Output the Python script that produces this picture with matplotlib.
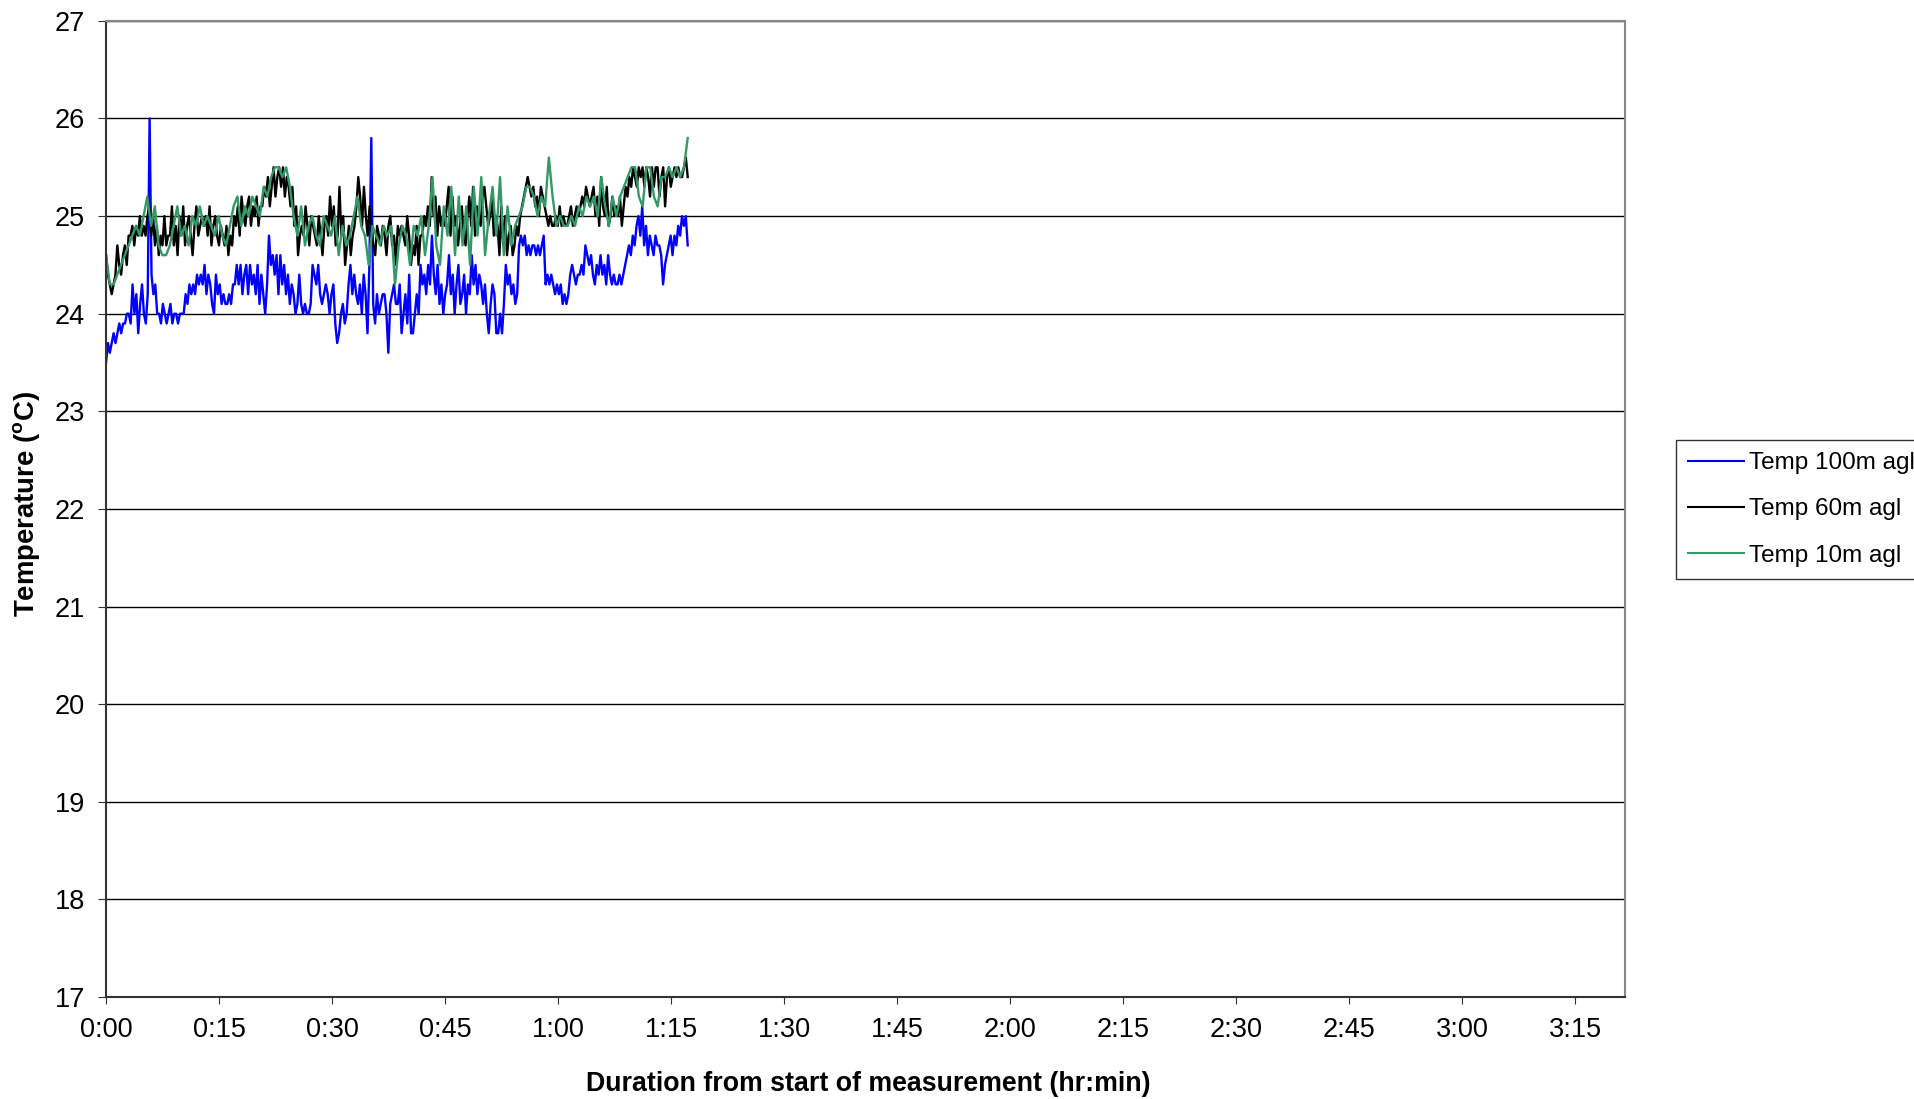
import numpy as np
import matplotlib
matplotlib.use("Agg")
import matplotlib.pyplot as plt

# temperature readings (deg C)
temp_100m = [
    # 0:00 - 0:13
    23.5, 23.7, 23.6,
    23.7, 23.8, 23.7, 23.8, 23.9, 23.8, 23.9,
    23.9, 24.0, 24.0, 23.9,
    24.3, 24.0, 24.2, 23.8, 24.1, 24.3, 24.0, 23.9, 24.2,
    26.0,
    24.4, 24.2, 24.3, 24.0,
    24.0, 23.9, 24.1, 24.0, 23.9, 24.0, 24.1, 23.9, 24.0, 24.0, 23.9, 24.0, 24.0, 24.0,
    24.2, 24.1, 24.3, 24.2, 24.3, 24.2, 24.4, 24.3, 24.4, 24.3,
    # 0:13 - 0:25
    24.5, 24.2, 24.4, 24.3, 24.1,
    24.0, 24.4, 24.2, 24.3, 24.1,
    24.2, 24.1, 24.1, 24.2, 24.1, 24.3,
    24.3, 24.5, 24.3, 24.5, 24.2, 24.4, 24.5, 24.2, 24.5, 24.3, 24.4, 24.2, 24.5, 24.1, 24.4, 24.2, 24.0,
    24.3, 24.8, 24.5, 24.6, 24.4, 24.6, 24.2,
    24.6, 24.3, 24.5, 24.2, 24.4, 24.1, 24.3, 24.2, 24.0, 24.1,
    # 0:25 - 0:38
    24.4, 24.1, 24.0, 24.1, 24.0, 24.0, 24.1,
    24.5, 24.4, 24.3, 24.5, 24.2, 24.1, 24.2,
    24.3, 24.2, 24.0, 24.2, 24.3,
    23.9, 23.7, 23.8, 24.0, 24.1, 23.9, 24.0,
    24.3, 24.5, 24.2, 24.4, 24.2, 24.1, 24.3, 24.0, 24.4,
    24.2, 23.8, 24.5,
    25.8,
    24.1, 23.9, 24.2, 24.0, 24.1, 24.2,
    24.2, 24.0, 23.6, 24.1, 24.2, 24.3, 24.1,
    # 0:38 - 0:51
    24.1, 24.3, 23.8, 24.0, 24.2, 23.9, 24.4, 23.8, 23.8, 24.0, 24.2, 24.0,
    24.5, 24.3, 24.4, 24.2, 24.5, 24.3, 24.8, 24.4, 24.2, 24.5, 24.1, 24.3, 24.0, 24.2,
    24.3, 24.6, 24.2, 24.4, 24.0, 24.3, 24.5, 24.1, 24.2, 24.4, 24.0, 24.3, 24.2,
    24.6, 24.3, 24.5, 24.2, 24.4, 24.3, 24.1, 24.3, 24.0, 23.8, 24.1, 24.3,
    # 0:51 - 1:04
    24.2, 23.8, 23.8, 24.0, 23.8,
    24.1, 24.5, 24.3, 24.4, 24.2, 24.3, 24.1, 24.2,
    24.7, 24.8, 24.7, 24.8, 24.6, 24.7, 24.6, 24.7, 24.7, 24.6, 24.7, 24.6, 24.7, 24.8,
    24.3, 24.4, 24.3, 24.4, 24.3, 24.2, 24.3, 24.2, 24.3,
    24.1, 24.2, 24.1, 24.2,
    24.4, 24.5, 24.4, 24.3, 24.4, 24.4, 24.5, 24.4,
    24.7, 24.6, 24.5, 24.6, 24.4,
    # 1:04 - 1:17
    24.3, 24.5, 24.4, 24.6, 24.4, 24.5, 24.3, 24.6, 24.4, 24.3, 24.4, 24.3, 24.3, 24.4, 24.3, 24.4,
    24.5, 24.6, 24.7, 24.6, 24.8, 24.7, 24.9,
    25.0, 24.8, 25.1, 24.7, 24.9, 24.6, 24.8, 24.7, 24.6, 24.8, 24.7, 24.7,
    24.6, 24.3, 24.5, 24.6, 24.7,
    24.8, 24.6, 24.8, 24.7, 24.9, 24.8, 25.0, 24.9, 25.0, 24.7,
]

temp_60m = [
    24.6, 24.4, 24.3, 24.2, 24.3, 24.4,
    24.7, 24.5, 24.4, 24.6, 24.7, 24.5, 24.8,
    24.8, 24.9, 24.7, 24.9, 24.8, 25.0, 24.8, 24.9, 24.8, 25.0,
    25.1, 24.8, 25.0, 24.7, 24.9, 24.6, 24.8, 24.7, 25.0, 24.7, 24.8,
    24.8, 25.1, 24.7, 24.9, 24.6, 25.0, 24.8, 25.1, 24.7, 24.9, 25.0, 24.8, 24.6, 24.9, 25.1, 24.8, 24.9, 25.0,
    24.9, 25.0, 24.8, 25.1, 24.7, 24.9, 25.0, 24.8, 24.7, 24.9, 24.8,
    24.7, 24.9, 24.6, 24.8, 24.7, 25.0,
    24.9, 25.1, 24.8, 25.2, 25.0, 24.9, 25.1, 25.2, 24.9, 25.1, 25.0, 25.2, 24.9, 25.1,
    25.1, 25.3, 25.2, 25.4, 25.1, 25.3, 25.5, 25.2, 25.4, 25.5, 25.3, 25.5, 25.2, 25.4, 25.3, 25.1,
    25.3, 24.9, 25.1, 24.6, 24.8, 24.9,
    24.8, 25.1, 24.9, 24.7, 25.0, 24.9, 24.8,
    24.7, 25.0, 24.8, 24.6, 24.9, 25.0, 24.8, 25.2, 24.9, 25.1, 24.7, 24.8,
    25.3, 24.8, 25.0, 24.5, 24.7, 24.9, 24.6, 24.8, 24.9,
    25.1, 25.4, 25.2, 24.9, 25.3, 25.0, 24.8, 25.1, 24.9, 24.7,
    24.6, 24.9, 24.8, 24.7, 24.9, 24.8, 24.6, 24.9, 25.0, 24.7, 24.8, 24.5, 24.9, 24.8,
    24.9, 24.8, 24.7, 25.0, 24.8, 24.5, 24.7, 24.6, 24.9, 24.5, 24.8,
    24.8, 25.0, 24.9, 25.1, 24.9, 25.4, 25.0, 25.2, 24.8, 25.1, 24.9, 25.0,
    24.9, 25.1, 25.3, 24.8, 25.2, 24.9, 25.0, 24.7, 24.9, 25.1, 24.8, 24.7,
    25.0, 25.2, 24.9, 25.3, 24.8, 25.1, 25.0, 24.9, 25.2, 25.3, 25.1, 24.9, 25.0, 25.2, 24.8, 25.0,
    24.9, 24.6, 25.1, 24.7, 25.0, 24.6, 24.8, 24.9, 24.6, 24.7, 24.9, 24.8,
    25.0, 25.1, 25.2, 25.3, 25.4, 25.3, 25.2,
    25.3, 25.1, 25.2, 25.0, 25.3, 25.2, 25.1,
    25.0, 24.9, 25.0, 24.9, 24.9, 25.0, 24.9, 25.1, 24.9, 25.0, 24.9, 24.9, 25.0, 25.1, 24.9, 25.0, 25.1, 25.0,
    25.1, 25.2, 25.1, 25.3, 25.2, 25.1, 25.2, 25.3,
    25.0, 25.2, 24.9, 25.4, 25.1, 25.0, 25.3, 24.9, 25.0, 25.2, 25.0,
    25.1, 25.0, 25.2, 24.9, 25.1, 25.3, 25.2, 25.4, 25.3, 25.5, 25.4, 25.3,
    25.5, 25.4, 25.5, 25.3, 25.5, 25.4, 25.2, 25.5, 25.3, 25.5, 25.5, 25.2, 25.4, 25.5, 25.1, 25.4, 25.5,
    25.3, 25.4, 25.5, 25.4, 25.5, 25.4, 25.4, 25.5, 25.6, 25.4,
]

temp_10m = [
    24.6, 24.3, 24.3, 24.4, 24.5, 24.6, 24.7, 24.8, 24.9, 24.8, 25.0, 25.2, 24.9,
    25.1, 24.7, 24.6, 24.6, 24.7, 24.9, 25.1, 24.8, 24.9, 24.7, 25.0, 24.9, 25.1,
    24.9, 25.0, 24.9, 24.8, 25.0, 24.8, 24.7, 24.9, 25.1, 25.2, 24.9, 25.1, 25.0,
    25.2, 25.1, 25.0, 25.3, 25.2, 25.4, 25.5, 25.5, 25.4, 25.5, 25.3, 25.0, 24.8,
    25.1, 24.7, 24.9, 25.0, 24.8, 24.7, 25.0, 24.9, 24.8, 25.0, 24.6, 24.9, 24.7,
    24.8, 25.0, 25.2, 24.9, 24.8, 24.5, 24.9, 24.8, 24.7, 24.9, 24.8, 24.9, 24.3,
    24.7, 24.9, 24.8, 24.5, 24.9, 24.8, 25.0, 24.6, 24.9, 25.4, 24.7, 24.5, 25.1,
    24.8, 25.3, 24.6, 25.2, 24.7, 25.1, 24.5, 25.3, 24.8, 25.4, 24.6, 25.0, 25.3,
    24.8, 25.4, 24.6, 25.1, 24.7, 24.9, 25.0, 25.1, 25.3, 25.3, 25.2, 25.0, 25.2,
    25.1, 25.6, 25.2, 24.9, 25.0, 24.9, 24.9, 25.0, 24.9, 25.1, 25.0, 25.2, 25.1,
    25.2, 25.0, 25.4, 25.1, 24.9, 25.2, 25.0, 25.2, 25.3, 25.4, 25.5, 25.5, 25.2,
    25.1, 25.5, 25.5, 25.2, 25.1, 25.4, 25.4, 25.5, 25.4, 25.5, 25.4, 25.5, 25.8,
]

series = [
    ("Temp 100m agl", temp_100m, "#0000FF"),
    ("Temp 60m agl", temp_60m, "#000000"),
    ("Temp 10m agl", temp_10m, "#339966"),
]
end_min = 77.2  # last reading, minutes after start

plt.rcParams["font.family"] = ["Liberation Sans", "DejaVu Sans"]
plt.rcParams["mathtext.fontset"] = "custom"
plt.rcParams["mathtext.rm"] = "Liberation Sans"
plt.rcParams["mathtext.bf"] = "Liberation Sans:bold"

fig = plt.figure(figsize=(19.14, 10.99), dpi=100)
ax = fig.add_axes([0.0554, 0.0928, 0.849 - 0.0554, 0.981 - 0.0928])

for label, vals, col in series:
    t = np.linspace(0, end_min, len(vals))
    ax.plot(t, vals, color=col, lw=1.7, label=label)

ax.set_xlim(0, 201.6)
ax.set_ylim(17, 27)
xt = np.arange(0, 200, 15)
ax.set_xticks(xt)
ax.set_xticklabels(["%d:%02d" % (m // 60, m % 60) for m in xt])
ax.set_yticks(np.arange(17, 28, 1))
ax.tick_params(axis="both", direction="out", labelsize=19.5, color="#333333")
ax.tick_params(axis="y", length=6, pad=9)
ax.tick_params(axis="x", length=5, pad=9.5)
ax.grid(axis="y", color="black", lw=1.0)
ax.set_axisbelow(True)
for s in ["left", "bottom"]:
    ax.spines[s].set_color("#333333")
    ax.spines[s].set_linewidth(1.5)
for s in ["top", "right"]:
    ax.spines[s].set_color("#888888")
    ax.spines[s].set_linewidth(1.5)

fig.text(0.4535, 1 - 1084 / 1099, "Duration from start of measurement (hr:min)",
         ha="center", va="center", fontsize=19.3, fontweight="bold")
fig.text(27 / 1914, 0.541, r"Temperature ($^{\mathbf{o}}$C)", rotation=90,
         ha="center", va="center", fontsize=19.8, fontweight="bold")

leg = ax.legend(loc="upper left", bbox_to_anchor=(1676 / 1914, 1 - 440 / 1099),
                bbox_transform=fig.transFigure, fontsize=17.5, frameon=True,
                fancybox=False, handlelength=2.3, handletextpad=0.2,
                labelspacing=1.0, borderpad=0.5, borderaxespad=0)
leg.get_frame().set_edgecolor("black")
leg.get_frame().set_linewidth(1.0)
for ln in leg.get_lines():
    ln.set_linewidth(1.5)

fig.savefig("out.png", dpi=100)
